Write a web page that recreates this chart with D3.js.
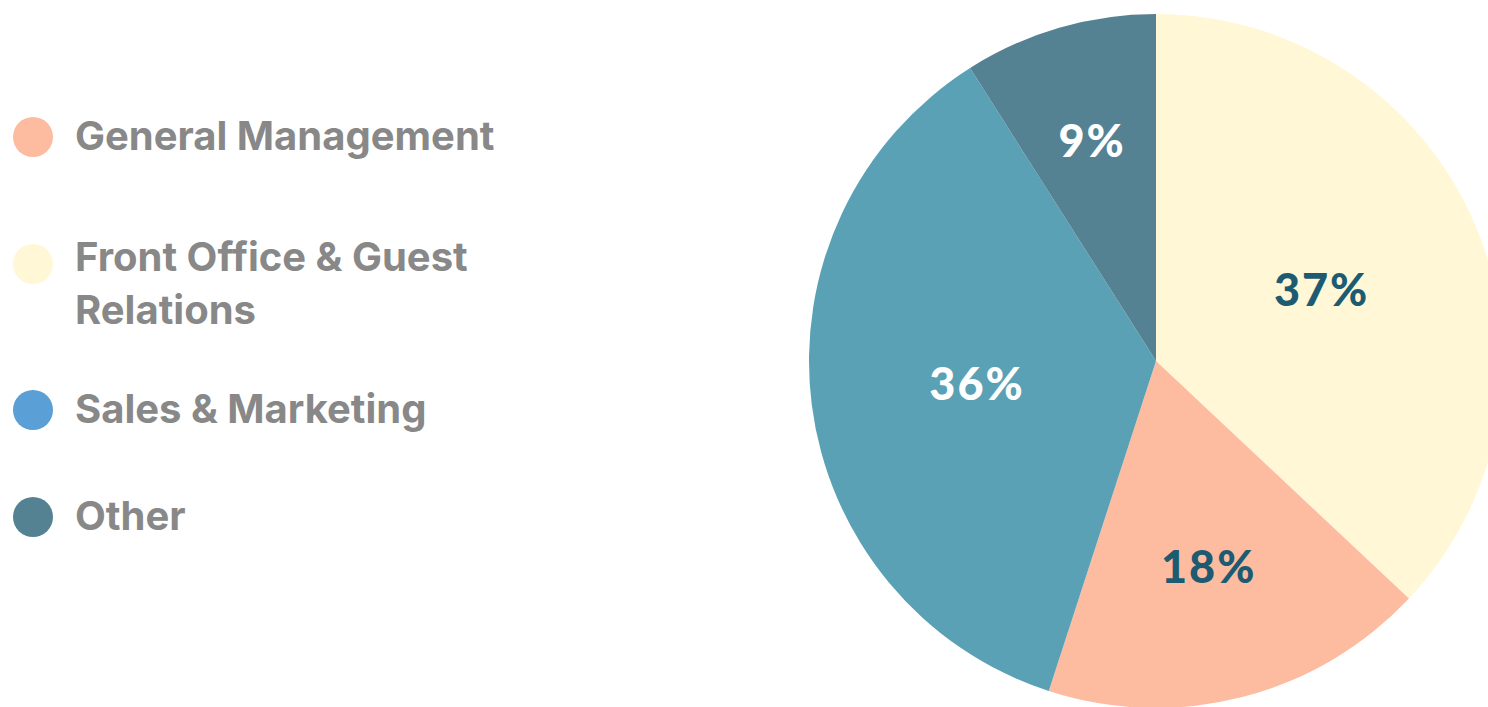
<!DOCTYPE html>
<html>
<head>
<meta charset="utf-8">
<script src="https://cdn.jsdelivr.net/npm/d3@7"></script>
<style>
  html, body { margin: 0; padding: 0; background: #ffffff; overflow: hidden; }
  svg { display: block; }
</style>
</head>
<body>
<svg id="chart" width="1488" height="707"></svg>
<script>
// Department share of staff
const categories = ["Front Office & Guest Relations", "General Management", "Sales & Marketing", "Other"];
const shares = [37, 18, 36, 9];
const sliceColors = ["#FFF7D5", "#FDBBA0", "#5AA1B5", "#558293"];
const labelColors = ["#1D5B72", "#1D5B72", "#ffffff", "#ffffff"];

// Legend order and swatches
const legendNames = ["General Management", "Front Office & Guest Relations", "Sales & Marketing", "Other"];
const legendLines = [["General Management"], ["Front Office & Guest", "Relations"], ["Sales & Marketing"], ["Other"]];
const legendSwatches = ["#FDBBA0", "#FFF7D5", "#5A9FD6", "#558293"];

const svg = d3.select("#chart");
const cx = 1156, cy = 361, r = 347;

const pie = d3.pie().sort(null).value(d => d.v);
const arcs = pie(categories.map((c, i) => ({ c, v: shares[i], i })));
const arc = d3.arc().innerRadius(0).outerRadius(r);

const g = svg.append("g").attr("transform", `translate(${cx},${cy})`);
g.selectAll("path.slice").data(arcs).join("path")
  .attr("class", "slice")
  .attr("d", arc)
  .attr("fill", d => sliceColors[d.data.i]);

// narrower slices carry their label further out
const labelArc = d => {
  const lr = r * Math.max(0.52, 0.71 - d.data.v * 0.0055);
  return d3.arc().innerRadius(lr).outerRadius(lr).centroid(d);
};
g.selectAll("text.pct").data(arcs).join("text")
  .attr("class", "pct")
  .attr("transform", d => `translate(${labelArc(d)})`)
  .attr("text-anchor", "middle")
  .attr("dy", "0.36em")
  .attr("font-family", "Lato, sans-serif")
  .attr("font-weight", 900)
  .attr("font-size", 45)
  .attr("letter-spacing", 2)
  .attr("fill", d => labelColors[d.data.i])
  .text(d => d.data.v + "%");

// Legend
const legendY = [137, 264, 410, 517];
const lg = svg.append("g");
legendNames.forEach((name, i) => {
  lg.append("circle")
    .attr("cx", 33).attr("cy", legendY[i]).attr("r", 20)
    .attr("fill", legendSwatches[i]);
  const t = lg.append("text")
    .attr("font-family", "Inter, sans-serif")
    .attr("font-weight", 700)
    .attr("font-size", 40)
    .attr("fill", "#888888");
  legendLines[i].forEach((line, j) => {
    t.append("tspan")
      .attr("x", 75)
      .attr("y", legendY[i] + 13 - (i === 1 ? 6 : 0) + j * 53)
      .text(line);
  });
});
</script>
</body>
</html>
